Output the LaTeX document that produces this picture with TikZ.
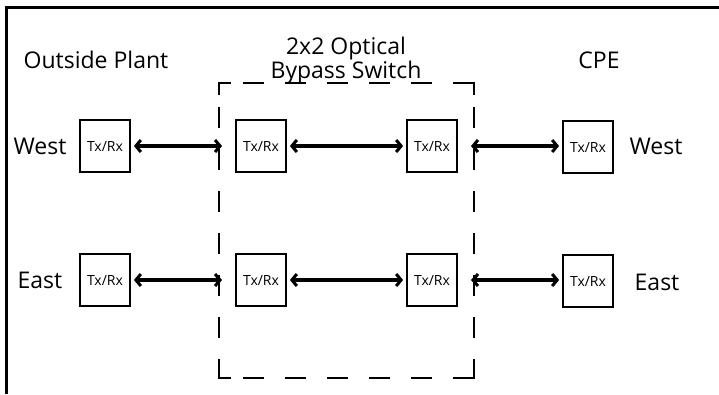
\documentclass[tikz,border=0pt]{standalone}
\usepackage{fontspec}
\setmainfont{Open Sans}
\usetikzlibrary{arrows.meta}
\begin{document}
\begin{tikzpicture}[x=1pt,y=-1pt,
  trx/.style={draw, line width=1.8pt, minimum width=50pt, minimum height=52pt, inner sep=0pt, font=\fontsize{14}{14}\selectfont},
  lbl/.style={font=\fontsize{23}{24}\selectfont, inner sep=0pt},
  link/.style={line width=3.4pt, {Straight Barb[length=5pt,width=12pt,line width=3pt]}-{Straight Barb[length=5pt,width=12pt,line width=3pt]}, shorten <=3pt, shorten >=3pt},
  dashbox/.style={line width=2pt, dash pattern=on 21pt off 21pt}]
\useasboundingbox (0,0) rectangle (719,394);
\fill[white] (0,0) rectangle (719,394);
% outer frame (cropped)
\draw[line width=3pt] (6,394) -- (6,7) -- (719,7);
% dashed switch box
\coordinate (d1) at (219,83);
\coordinate (d2) at (474,83);
\coordinate (d3) at (474,378);
\coordinate (d4) at (219,378);
\draw[line width=2pt] (219,95) -- (d1) -- (231,83);
\draw[line width=2pt] (462,83) -- (d2) -- (474,95);
\draw[line width=2pt] (474,366) -- (d3) -- (462,378);
\draw[line width=2pt] (231,378) -- (d4) -- (219,366);
\draw[dashbox, dash phase=-12pt] (231,83) -- (462,83);
\draw[dashbox, dash phase=-12pt] (231,378) -- (462,378);
\draw[dashbox, dash phase=-12pt] (219,95) -- (219,366);
\draw[dashbox, dash phase=-12pt] (474,95) -- (474,366);
% headings
\node[lbl] (op) at (96,60) {Outside Plant};
\node[lbl, align=center, font=\fontsize{23}{22}\selectfont] (sw) at (346,61) {2x2 Optical\\Bypass Switch};
\node[lbl] (cpe) at (599,60) {CPE};
% boxes
\node[trx] (ow) at (105,146) {Tx/Rx};
\node[trx] (sw1) at (261,146) {Tx/Rx};
\node[trx] (sw2) at (432,146) {Tx/Rx};
\node[trx] (cw) at (588,147) {Tx/Rx};
\node[trx] (oe) at (105,280) {Tx/Rx};
\node[trx] (se1) at (261,280) {Tx/Rx};
\node[trx] (se2) at (432,280) {Tx/Rx};
\node[trx] (ce) at (588,281) {Tx/Rx};
% side labels
\node[lbl] (lw) at (40,146) {West};
\node[lbl] (le) at (40,280) {East};
\node[lbl] (rw) at (656,146) {West};
\node[lbl] (re) at (657,282) {East};
% links
\coordinate (xwl) at (222,146);
\coordinate (xwr) at (471,146);
\coordinate (xel) at (222,280);
\coordinate (xer) at (471,280);
\draw[link, shorten >=0pt] (ow.east) -- (xwl);
\draw[link] (sw1.east) -- (sw2.west);
\draw[link, shorten <=0pt] (xwr) -- (cw.west |- xwr);
\draw[link, shorten >=0pt] (oe.east) -- (xel);
\draw[link] (se1.east) -- (se2.west);
\draw[link, shorten <=0pt] (xer) -- (ce.west |- xer);
\end{tikzpicture}
\end{document}
